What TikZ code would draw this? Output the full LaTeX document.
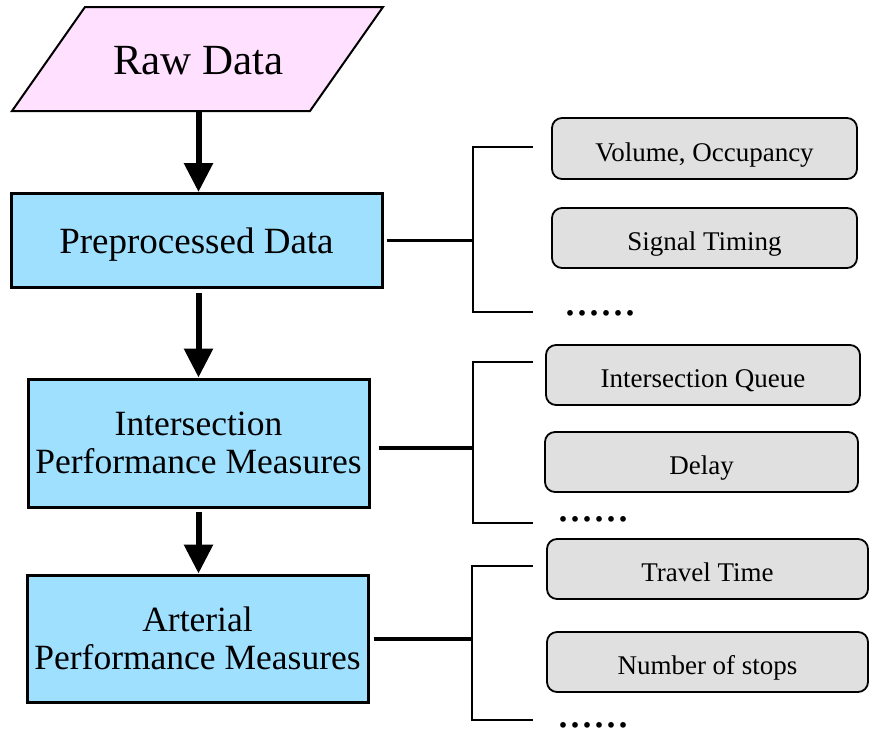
\documentclass[tikz,border=0pt]{standalone}
\usepackage{fontspec}
\setmainfont{Liberation Serif}
\usetikzlibrary{arrows.meta,calc}
\definecolor{rawpink}{HTML}{FFE0FF}
\definecolor{stageblue}{HTML}{A0E0FF}
\definecolor{itemgray}{HTML}{E0E0E0}
\tikzset{
  stagebox/.style={draw, line width=3pt, fill=stageblue, align=center, inner sep=0pt,
    font=\fontsize{35.5}{38}\selectfont},
  itembox/.style={draw, line width=1.8pt, fill=itemgray, rounded corners=10pt,
    minimum height=60pt, inner sep=0pt, text height=25pt, text depth=0pt,
    font=\fontsize{27}{30}\selectfont},
  flow/.style={line width=6pt, -{Triangle[width=28pt,length=29pt]}},
  link/.style={line width=3.5pt},
  branch/.style={line width=1.8pt},
  more/.style={font=\fontsize{48}{48}\selectfont, inner sep=0pt, text depth=0pt,
    anchor=base west},
}
\begin{document}
\begin{tikzpicture}[x=1pt,y=-1pt]
\useasboundingbox (0,0) rectangle (869,731);

% input parallelogram
\draw[line width=2pt, fill=rawpink] (12,111) -- (85,7) -- (383,7) -- (310,111) -- cycle;
\node[minimum width=298pt, minimum height=102pt, inner sep=0pt,
      font=\fontsize{43}{48}\selectfont] (raw) at (198.5,60.5) {Raw Data};

% processing stages
\node[stagebox, minimum width=371pt, minimum height=94pt, text depth=0pt,
      font=\fontsize{37}{40}\selectfont] (pre) at (196.5,240.5) {Preprocessed Data};
\node[stagebox, minimum width=341pt, minimum height=128pt] (int) at (198.5,443)
  {Intersection\\Performance Measures};
\node[stagebox, minimum width=341pt, minimum height=127pt] (art) at (197.5,638.5)
  {Arterial\\Performance Measures};

% flow arrows
\draw[flow] (raw.south) -- (raw.south |- pre.north);
\draw[flow, shorten <=4pt] (pre.south -| raw) -- (int.north -| raw);
\draw[flow, shorten <=3pt] (int.south -| raw) -- (art.north -| raw);

% example outputs
\node[itembox, minimum width=305pt, minimum height=61pt, text height=26pt] (vol) at (704.5,148.5) {Volume, Occupancy};
\node[itembox, minimum width=305pt] (sig) at (704.5,238) {Signal Timing};
\node[more] (d1) at (564,315.5) {......};

\node[itembox, minimum width=314pt] (iq) at (703,375) {Intersection Queue};
\node[itembox, minimum width=313pt] (del) at (701.5,462) {Delay};
\node[more] (d2) at (557,521.5) {......};

\node[itembox, minimum width=321pt] (tt) at (707.5,569) {Travel Time};
\node[itembox, minimum width=321pt] (ns) at (707.5,662) {Number of stops};
\node[more] (d3) at (557,727.5) {......};

% bracket junctions and tick ends
\coordinate (j1) at (473,240.5);
\coordinate (t1a) at (533,147);
\coordinate (t1b) at (533,312);
\coordinate (j2) at (473,448);
\coordinate (t2a) at (533,362);
\coordinate (t2b) at (533,523);
\coordinate (j3) at (472,639);
\coordinate (t3a) at (533,566);
\coordinate (t3b) at (533,720);

\draw[link, shorten <=3pt] (pre.east) -- (pre.east -| j1);
\draw[branch] (t1a) -| (j1) |- (t1b);
\draw[link, shorten <=8pt] (int.east |- j2) -- (j2);
\draw[branch] (t2a) -| (j2) |- (t2b);
\draw[link, shorten <=4pt] (art.east |- j3) -- (j3);
\draw[branch] (t3a) -| (j3) |- (t3b);
\end{tikzpicture}
\end{document}
